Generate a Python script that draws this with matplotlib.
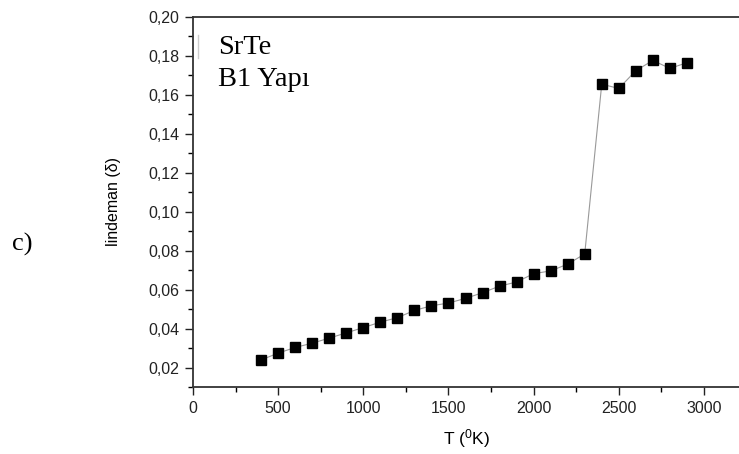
import matplotlib
matplotlib.use("Agg")
import matplotlib.pyplot as plt
from matplotlib.lines import Line2D
from matplotlib.ticker import FixedLocator, FixedFormatter, MultipleLocator

T = [400, 500, 600, 700, 800, 900, 1000, 1100, 1200, 1300, 1400, 1500,
     1600, 1700, 1800, 1900, 2000, 2100, 2200, 2300, 2400, 2500, 2600,
     2700, 2800, 2900]
lindeman = [0.0239, 0.0274, 0.0303, 0.0325, 0.0351, 0.0378, 0.0405, 0.0433,
            0.0456, 0.0493, 0.0517, 0.0531, 0.0555, 0.0584, 0.0618, 0.0639,
            0.0682, 0.0696, 0.0731, 0.0783, 0.1655, 0.1633, 0.1724, 0.1777,
            0.1736, 0.1765]

x_ticks = [0, 500, 1000, 1500, 2000, 2500, 3000]
x_tick_labels = ["0", "500", "1000", "1500", "2000", "2500", "3000"]
y_ticks = [0.02, 0.04, 0.06, 0.08, 0.10, 0.12, 0.14, 0.16, 0.18, 0.20]
y_tick_labels = ["0,02", "0,04", "0,06", "0,08", "0,10", "0,12", "0,14",
                 "0,16", "0,18", "0,20"]

plt.rcParams['font.family'] = ['Liberation Sans', 'DejaVu Sans']

fig = plt.figure(figsize=(7.39, 4.54), dpi=100)
ax = fig.add_axes([0.2612, 0.1476, 0.7388, 0.815])

ax.plot(T, lindeman, color='#999999', lw=0.8, marker='s', ms=6.5,
        mfc='black', mec='black')

ax.set_xlim(0, 3206)
ax.set_ylim(0.01, 0.20)

ax.xaxis.set_major_locator(FixedLocator(x_ticks))
ax.xaxis.set_major_formatter(FixedFormatter(x_tick_labels))
ax.xaxis.set_minor_locator(MultipleLocator(250))
ax.yaxis.set_major_locator(FixedLocator(y_ticks))
ax.yaxis.set_major_formatter(FixedFormatter(y_tick_labels))
ax.yaxis.set_minor_locator(MultipleLocator(0.01))

ax.tick_params(which='major', direction='out', length=6, width=1,
               labelsize=11.5, colors='#222222', pad=4)
ax.tick_params(which='minor', direction='out', length=3.5, width=1)
ax.spines['right'].set_visible(False)
for s in ['left', 'bottom', 'top']:
    ax.spines[s].set_linewidth(1.3)
    ax.spines[s].set_color('#333333')

ax.set_xlabel(r"T ($\mathregular{^0}$K)", fontsize=12.5, labelpad=8)
ax.set_ylabel("lindeman (δ)", fontsize=11.5)
ax.yaxis.set_label_coords(-0.132, 0.5)

ax.text(0.046, 0.952, "SrTe\nB1 Yapı", transform=ax.transAxes,
        family='Liberation Serif', fontsize=20.5, linespacing=1.36, va='top')
fig.text(0.03, 0.462, "c)", family='Liberation Serif', fontsize=19,
         va='center', ha='center')
fig.add_artist(Line2D([198 / 739, 198 / 739], [1 - 35 / 454, 1 - 58 / 454],
                      color='#cccccc', lw=1))

fig.savefig("out.png", dpi=100)
